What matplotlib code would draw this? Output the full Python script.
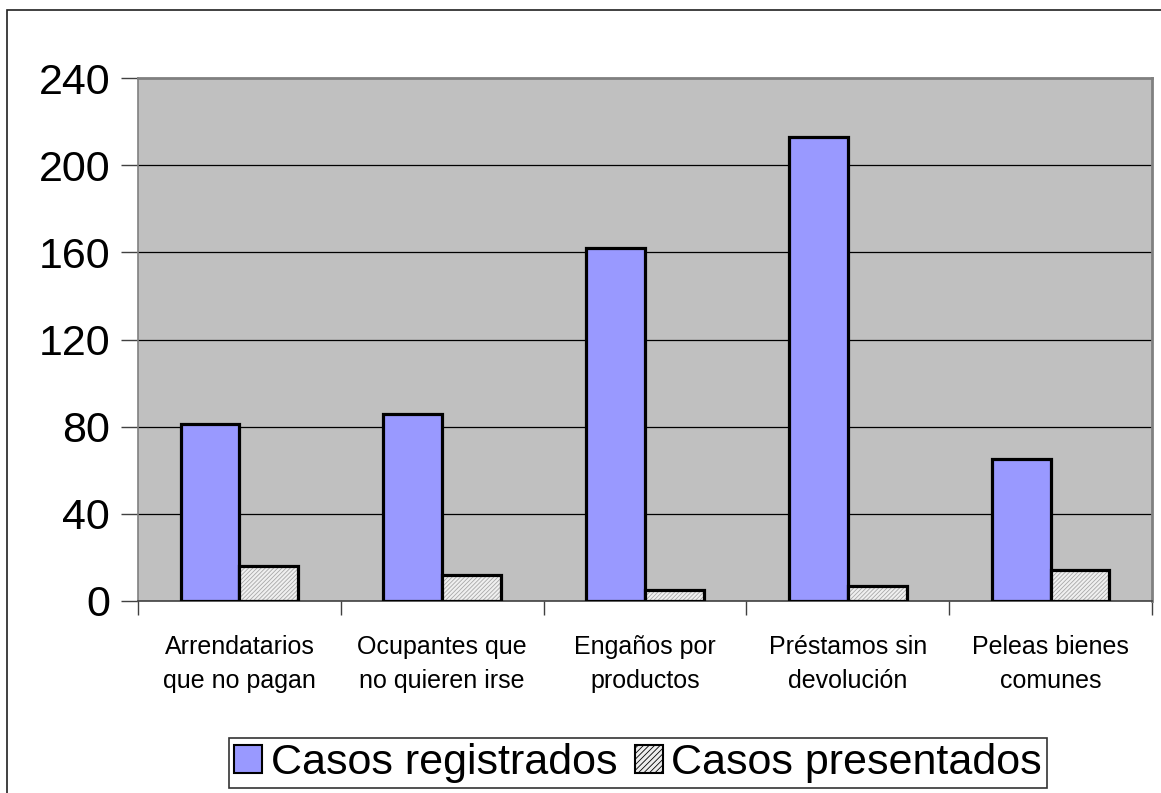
import matplotlib
matplotlib.use("Agg")
import matplotlib.pyplot as plt
import numpy as np
from matplotlib.patches import Rectangle

plt.rcParams['font.family'] = ['Liberation Sans', 'DejaVu Sans']
plt.rcParams['hatch.linewidth'] = 0.6

categories = ["Arrendatarios\nque no pagan", "Ocupantes que\nno quieren irse",
              "Engaños por\nproductos", "Préstamos sin\ndevolución", "Peleas bienes\ncomunes"]
registrados = [81, 86, 162, 213, 65]
presentados = [16, 12, 5, 7, 14]
yticks = [0, 40, 80, 120, 160, 200, 240]

W, H = 1161, 793
fig = plt.figure(figsize=(W / 100, H / 100), dpi=100)
ax = fig.add_axes([138 / W, 1 - 601 / H, (1152 - 138) / W, (601 - 78) / H])
ax.set_facecolor('#C0C0C0')

x = np.arange(len(categories))
bw = 0.29
ax.bar(x - bw / 2, registrados, bw, color='#9999FF', edgecolor='black', linewidth=2.3, zorder=3)
ax.bar(x + bw / 2, presentados, bw, color='#F0F0F0', edgecolor='#A8A8A8', hatch='////////',
       linewidth=0, zorder=3)
ax.bar(x + bw / 2, presentados, bw, fill=False, edgecolor='black', linewidth=2.3, zorder=4)

ax.set_xlim(-0.5, len(categories) - 0.5)
ax.set_ylim(0, 240)
ax.set_yticks(yticks)
ax.set_yticklabels([str(v) for v in yticks], fontsize=31)
for v in yticks[1:-1]:
    ax.axhline(v, color='black', linewidth=0.9, zorder=1)

ax.set_xticks(np.arange(len(categories) + 1) - 0.5, minor=False)
ax.set_xticklabels([])
ax.tick_params(axis='x', direction='out', length=10, width=1, colors='#404040')
ax.tick_params(axis='y', direction='out', length=12, width=1, colors='#404040', labelcolor='black', pad=8)
for i, c in enumerate(categories):
    ax.text(i, -15.5, c, ha='center', va='top', fontsize=18, linespacing=1.55,
            transform=ax.transData)

for s in ['top', 'right', 'left']:
    ax.spines[s].set_color('#808080')
    ax.spines[s].set_linewidth(2)
ax.spines['left'].set_linewidth(1.2)
ax.spines['bottom'].set_color('#404040')
ax.spines['bottom'].set_linewidth(1.2)

h1 = Rectangle((0, 0), 1, 1, facecolor='#9999FF', edgecolor='black', linewidth=1.5)
h2 = Rectangle((0, 0), 1, 1, facecolor='#EDEDED', edgecolor='#909090', linewidth=1.5, hatch='//////')
leg = fig.legend([h1, h2], ['Casos registrados', 'Casos presentados'], loc='center',
                 bbox_to_anchor=(638 / W, 1 - 763 / H), ncol=2, fontsize=31, frameon=True,
                 fancybox=False, edgecolor='black', handlelength=0.65, handleheight=0.65,
                 handletextpad=0.2, columnspacing=0.4, borderpad=0.12, borderaxespad=0)
leg.get_frame().set_linewidth(1.2)
for hp in leg.legend_handles:
    hp.set_edgecolor('black')

fig.patches.append(Rectangle((7 / W, -0.1), 1.2, 1 - 10 / H + 0.1, transform=fig.transFigure,
                             fill=False, edgecolor='#202020', linewidth=1.2))

fig.savefig('out.png', dpi=100)
